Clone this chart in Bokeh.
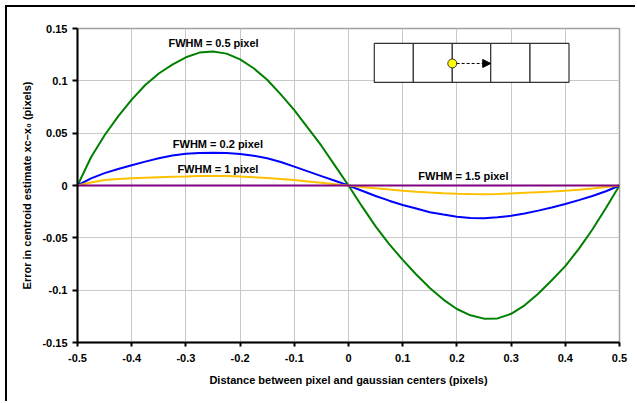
from bokeh.plotting import figure
from bokeh.models import FixedTicker, Arrow, NormalHead
from bokeh.core.properties import value
from bokeh.embed import file_html
from bokeh.resources import INLINE

# ---- data ----
offset = [-0.5, -0.475, -0.45, -0.425, -0.4, -0.375, -0.35, -0.325, -0.3, -0.275,
          -0.25, -0.225, -0.2, -0.175, -0.15, -0.125, -0.1, -0.075, -0.05, -0.025,
          0.0, 0.025, 0.05, 0.075, 0.1, 0.125, 0.15, 0.175, 0.2, 0.225,
          0.25, 0.275, 0.3, 0.325, 0.35, 0.375, 0.4, 0.425, 0.45, 0.475, 0.5]

fwhm_05 = [0.0, 0.027, 0.048, 0.066, 0.082, 0.096, 0.107, 0.1155, 0.1225, 0.127,
           0.128, 0.126, 0.1205, 0.112, 0.101, 0.087, 0.072, 0.055, 0.038, 0.019,
           0.0, -0.020, -0.039, -0.056, -0.071, -0.085, -0.098, -0.109, -0.118, -0.124,
           -0.1272, -0.127, -0.1226, -0.1145, -0.1035, -0.0905, -0.077, -0.0605, -0.042, -0.0215, 0.0]

fwhm_02 = [0.0, 0.0068, 0.0118, 0.0158, 0.0193, 0.0228, 0.026, 0.0287, 0.0303, 0.0311,
           0.0313, 0.031, 0.030, 0.0285, 0.026, 0.0225, 0.018, 0.0135, 0.009, 0.0045,
           0.0, -0.005, -0.010, -0.0145, -0.0186, -0.022, -0.0255, -0.0277, -0.0298, -0.031,
           -0.0313, -0.0303, -0.029, -0.0268, -0.024, -0.021, -0.0177, -0.014, -0.010, -0.0055, 0.0]

fwhm_1 = [0.0, 0.0028, 0.0052, 0.0062, 0.0069, 0.0075, 0.008, 0.0083, 0.0086, 0.009,
          0.0091, 0.009, 0.0086, 0.008, 0.0072, 0.0062, 0.0052, 0.0039, 0.0026, 0.0013,
          0.0, -0.0014, -0.0027, -0.0039, -0.005, -0.006, -0.0068, -0.0074, -0.0079, -0.0082,
          -0.0083, -0.0081, -0.0076, -0.007, -0.0064, -0.0058, -0.005, -0.004, -0.0029, -0.0015, 0.0]

fwhm_15 = [0.0, 0.0, 0.0, 0.0, 0.0, 0.0, 0.0, 0.0, 0.0, 0.0,
           0.0, 0.0, 0.0, 0.0, 0.0, 0.0, 0.0, 0.0, 0.0, 0.0,
           0.0, 0.0, 0.0, 0.0, 0.0, 0.0, 0.0, 0.0, 0.0, 0.0,
           0.0, 0.0, 0.0, 0.0, 0.0, 0.0, 0.0, 0.0, 0.0, 0.0, 0.0]

curve_labels = ["FWHM = 0.5 pixel", "FWHM = 0.2 pixel", "FWHM = 1 pixel", "FWHM = 1.5 pixel"]

x_ticks = [-0.5, -0.4, -0.3, -0.2, -0.1, 0.0, 0.1, 0.2, 0.3, 0.4, 0.5]
x_tick_labels = ["-0.5", "-0.4", "-0.3", "-0.2", "-0.1", "0", "0.1", "0.2", "0.3", "0.4", "0.5"]
y_ticks = [-0.15, -0.1, -0.05, 0.0, 0.05, 0.1, 0.15]
y_tick_labels = ["-0.15", "-0.1", "-0.05", "0", "0.05", "0.1", "0.15"]

# ---- annotation placement (layout, not data) ----
label_x = [-0.249, -0.241, -0.241, 0.212]
label_y = [0.1363, 0.0396, 0.0157, 0.009]

box_edges = [0.0476, 0.1196, 0.1915, 0.2624, 0.3349, 0.4068]
box_top, box_bottom = 0.1357, 0.0985
dot_x, dot_y = 0.1915, 0.1166
arrow_end_x = 0.2624

FONT = "Liberation Sans"

p = figure(width=630, height=396, output_backend="svg", toolbar_location=None,
           x_range=(-0.5, 0.5), y_range=(-0.15, 0.15),
           min_border_left=70, min_border_right=18, min_border_top=21, min_border_bottom=61,
           background_fill_color="white", border_fill_color="white")
# outer chart-area frame: only its left and top edges fall inside the window
p.styles = {"margin-left": "7px", "margin-top": "7px",
            "box-shadow": "-2px -2px 0px 0px black"}

p.outline_line_color = "#a0a0a0"
p.outline_line_width = 1.5

p.xgrid.grid_line_color = "#c8c8c8"
p.ygrid.grid_line_color = "#c8c8c8"
p.xgrid.grid_line_width = 1
p.ygrid.grid_line_width = 1

p.xaxis.ticker = FixedTicker(ticks=x_ticks)
p.yaxis.ticker = FixedTicker(ticks=y_ticks)
p.xaxis.major_label_overrides = {t: l for t, l in zip(x_ticks, x_tick_labels)}
p.yaxis.major_label_overrides = {t: l for t, l in zip(y_ticks, y_tick_labels)}

for ax in (p.xaxis, p.yaxis):
    ax.axis_line_color = "black"
    ax.axis_line_width = 2
    ax.major_tick_line_color = "black"
    ax.major_tick_line_width = 2
    ax.minor_tick_line_color = None
    ax.major_tick_in = 0
    ax.major_label_text_font = FONT
    ax.major_label_text_font_style = "bold"
    ax.major_label_text_font_size = "11px"
    ax.major_label_text_color = "black"
    ax.axis_label_text_font = FONT
    ax.axis_label_text_font_style = "bold"
    ax.axis_label_text_font_size = "11px"
    ax.axis_label_text_color = "black"

p.xaxis.major_tick_out = 4
p.yaxis.major_tick_out = 5
p.xaxis.major_label_standoff = 7
p.yaxis.major_label_standoff = 5
p.xaxis.axis_label_standoff = 9
p.yaxis.axis_label_standoff = 6

p.xaxis.axis_label = "Distance between pixel and gaussian centers (pixels)"
p.yaxis.axis_label = "Error in centroid estimate x\u1d04\u2013x\u2080 (pixels)"

# ---- curves ----
p.line(offset, fwhm_05, line_color="#008000", line_width=2)
p.line(offset, fwhm_02, line_color="#0000ff", line_width=2)
p.line(offset, fwhm_1, line_color="#ffc000", line_width=2)
p.line(offset, fwhm_15, line_color="#800080", line_width=2)

p.text(x=label_x, y=label_y, text=curve_labels,
       text_font=value(FONT), text_font_style="bold", text_font_size="11px",
       text_color="black", text_align="center", text_baseline="middle")

# ---- inset sketch: row of pixels with gaussian center and shift arrow ----
p.quad(left=box_edges[:-1], right=box_edges[1:], top=box_top, bottom=box_bottom,
       fill_color="white", line_color="#333333", line_width=1.2)
p.add_layout(Arrow(end=NormalHead(size=8, fill_color="black", line_color="black"),
                   x_start=dot_x + 0.008, y_start=dot_y, x_end=arrow_end_x, y_end=dot_y,
                   line_color="black", line_width=1, line_dash="3 2"))
p.scatter([dot_x], [dot_y], size=9, fill_color="#ffff00", line_color="#333333", line_width=1)

open("out.html", "w").write(file_html(p, INLINE))
